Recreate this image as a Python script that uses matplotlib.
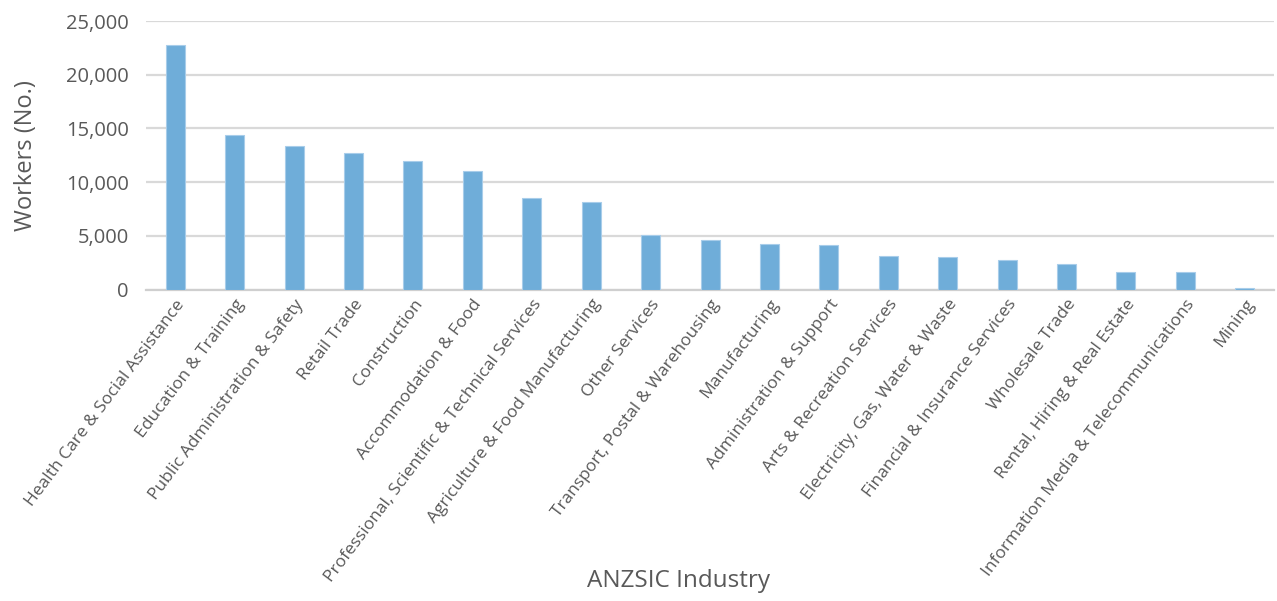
import matplotlib
matplotlib.use("Agg")
import matplotlib.pyplot as plt
from matplotlib.ticker import FuncFormatter

industries = [
    "Health Care & Social Assistance", "Education & Training",
    "Public Administration & Safety", "Retail Trade", "Construction",
    "Accommodation & Food", "Professional, Scientific & Technical Services",
    "Agriculture & Food Manufacturing", "Other Services",
    "Transport, Postal & Warehousing", "Manufacturing",
    "Administration & Support", "Arts & Recreation Services",
    "Electricity, Gas, Water & Waste", "Financial & Insurance Services",
    "Wholesale Trade", "Rental, Hiring & Real Estate",
    "Information Media & Telecommunications", "Mining",
]
workers = [22750, 14350, 13350, 12730, 12000, 11000, 8520, 8150, 5090,
           4600, 4220, 4130, 3160, 3000, 2790, 2380, 1640, 1640, 200]
yticks = [0, 5000, 10000, 15000, 20000, 25000]

TEXT = "#595959"
BAR = "#6FADD9"
GRID = "#d9d9d9"
plt.rcParams["font.family"] = ["Open Sans", "DejaVu Sans"]

fig = plt.figure(figsize=(12.77, 6.01), dpi=100)
ax = fig.add_axes([0.114, 0.518, 0.884, 0.447])

x = range(len(industries))
ax.bar(x, workers, width=0.32, color=BAR, edgecolor="#a8cdea", lw=0.8,
       zorder=3)

ax.set_ylim(0, 25000)
ax.set_xlim(-0.5, len(industries) - 0.5)
ax.set_yticks(yticks)
ax.yaxis.set_major_formatter(FuncFormatter(lambda v, p: f"{int(v):,}"))
ax.grid(axis="y", color=GRID, lw=1.6, zorder=0)
ax.tick_params(axis="both", length=0, colors=TEXT)
ax.tick_params(axis="y", labelsize=14.5, pad=12)
ax.set_xticks(list(x))
ax.set_xticklabels(industries, rotation=53, ha="right",
                   rotation_mode="anchor", fontsize=12.5, color=TEXT)
ax.tick_params(axis="x", pad=5)
for s in ["top", "right", "left"]:
    ax.spines[s].set_visible(False)
ax.spines["bottom"].set_color("#cfcfcf")
ax.spines["bottom"].set_linewidth(1.6)

ax.set_ylabel("Workers (No.)", fontsize=17, color=TEXT, labelpad=20)
fig.text(0.531, 0.033, "ANZSIC Industry", ha="center", va="center",
         fontsize=17.5, color=TEXT)

fig.savefig("out.png", dpi=100)
